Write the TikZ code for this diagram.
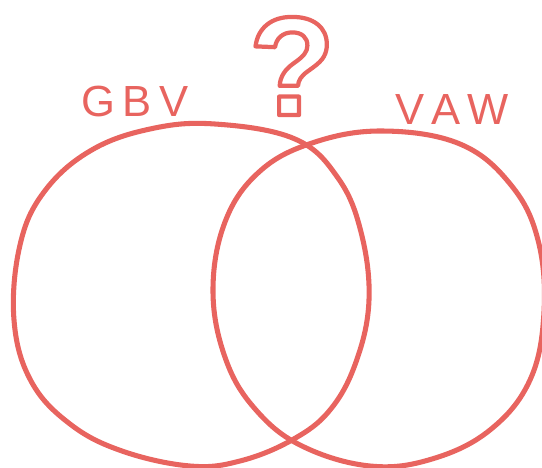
\documentclass[tikz,border=0pt]{standalone}
\usepackage{fontspec}
\setmainfont{Liberation Sans}
\usetikzlibrary{positioning}
\definecolor{venred}{HTML}{E8645F}

\begin{document}
\begin{tikzpicture}[
        x=0.025cm, y=-0.025cm,
        set/.style={draw=venred, line width=3.6pt, line cap=round, line join=round},
        label/.style={text=venred, font=\fontsize{31}{31}\selectfont, inner sep=0pt},
        query/.style={text=venred, inner sep=0pt,
            font=\fontsize{100}{100}\selectfont\bfseries\special{pdf:literal direct 1 Tr 3 w 1 j}}
    ]
        \useasboundingbox (0,0) rectangle (542,468);

        % Left set: GBV
        \draw[set] plot[smooth cycle, tension=0.65] coordinates {
            (215,124) (295,139) (338,178) (361,232) (369,300) (356,362)
            (330,410) (292,440) (240,461) (190,466) (122,451) (70,424)
            (31,381) (14,320) (20,245) (44,192) (90,151) (150,129)};
        \node[label] (gbv) at (135,101) {G\,B\,V};

        % Right set: VAW
        \draw[set] plot[smooth cycle, tension=0.65] coordinates {
            (382,131) (460,144) (511,185) (538,240) (544,312) (530,380)
            (490,430) (432,459) (370,466) (302,446) (256,410) (226,360)
            (213,292) (225,222) (259,172) (312,143)};
        \node[label] (vaw) at (452,110) {V\,A\,W};

        % What sits between
        \node[query] (ask) at (292,66) {?};
    \end{tikzpicture}
\end{document}
